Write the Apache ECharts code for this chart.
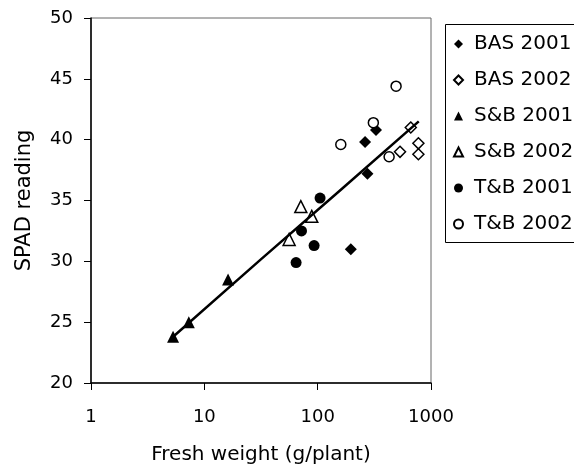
<!DOCTYPE html>
<html>
<head>
<meta charset="utf-8">
<script src="https://cdn.jsdelivr.net/npm/echarts@6/dist/echarts.min.js"></script>
<style>
html,body{margin:0;padding:0;background:#fff;}
#c{width:574px;height:473px;}
</style>
</head>
<body>
<div id="c"></div>
<script>
var seriesNames = ['BAS 2001', 'BAS 2002', 'S&B 2001', 'S&B 2002', 'T&B 2001', 'T&B 2002'];
var bas2001 = [[262, 39.8], [327, 40.8], [275, 37.2], [196, 31.0]];
var bas2002 = [[533, 39.0], [774, 39.7], [774, 38.8], [663, 41.0]];
var sb2001 = [[5.3, 23.8], [7.3, 25.0], [16.2, 28.5]];
var sb2002 = [[71, 34.5], [88.7, 33.7], [56, 31.8]];
var tb2001 = [[105, 35.2], [72, 32.5], [93, 31.3], [64.5, 29.9]];
var tb2002 = [[160, 39.6], [310, 41.4], [427, 38.6], [492, 44.4]];
var fitLine = [[5.3, 23.8], [31, 30.1], [163, 35.95], [780, 41.5]];
var yTicks = [20, 25, 30, 35, 40, 45, 50];
var xTicks = [1, 10, 100, 1000];

var FONT = 'DejaVu Sans';
var filled = {color: '#000', opacity: 1};
var open = {color: '#fff', borderColor: '#000', borderWidth: 1.5, opacity: 1};

function sc(name, data, symbol, size, style) {
  return {name: name, type: 'scatter', data: data, symbol: symbol, symbolSize: size,
    itemStyle: style, z: 3, emphasis: {disabled: true}};
}

var chart = echarts.init(document.getElementById('c'), null, {renderer: 'canvas'});
chart.setOption({
  animation: false,
  backgroundColor: '#fff',
  grid: {left: 91, right: 143, top: 18, bottom: 90, show: true, borderColor: '#666', borderWidth: 1},
  xAxis: {
    type: 'log', logBase: 10, min: xTicks[0], max: xTicks[xTicks.length - 1],
    name: 'Fresh weight (g/plant)', nameLocation: 'middle', nameGap: 62,
    nameTextStyle: {fontFamily: FONT, fontSize: 20, color: '#000'},
    axisLine: {show: true, lineStyle: {color: '#000', width: 1.5}},
    axisTick: {show: true, length: 7, lineStyle: {color: '#000'}},
    minorTick: {show: false},
    splitLine: {show: false},
    axisLabel: {fontFamily: FONT, fontSize: 18, color: '#000', margin: 25,
      formatter: function (v) { return String(Math.round(v)); }}
  },
  yAxis: {
    type: 'value', min: yTicks[0], max: yTicks[yTicks.length - 1], interval: 5,
    name: 'SPAD reading', nameLocation: 'middle', nameGap: 56,
    nameTextStyle: {fontFamily: FONT, fontSize: 21, color: '#000'},
    axisLine: {show: true, lineStyle: {color: '#000', width: 1.5}},
    axisTick: {show: true, length: 7, lineStyle: {color: '#000'}},
    splitLine: {show: false},
    axisLabel: {fontFamily: FONT, fontSize: 18, color: '#000', margin: 18}
  },
  legend: {
    orient: 'vertical', left: 443, top: 22,
    data: seriesNames,
    itemWidth: 9, itemHeight: 9, itemGap: 16,
    padding: [12, 10, 12, 10],
    borderWidth: 0,
    textStyle: {fontFamily: FONT, fontSize: 20, color: '#000', padding: [0, 0, 0, 6]}
  },
  graphic: [{
    type: 'rect', left: 443, top: 22, z: 0,
    shape: {width: 200, height: 218},
    style: {fill: 'none', stroke: '#000', lineWidth: 1}
  }],
  series: [
    sc(seriesNames[0], bas2001, 'diamond', 12, filled),
    sc(seriesNames[1], bas2002, 'diamond', 11, open),
    sc(seriesNames[2], sb2001, 'triangle', 12, filled),
    sc(seriesNames[3], sb2002, 'triangle', 12, open),
    sc(seriesNames[4], tb2001, 'circle', 11, filled),
    sc(seriesNames[5], tb2002, 'circle', 10, open),
    {name: 'fit', type: 'line', data: fitLine, symbol: 'none', z: 4,
      lineStyle: {color: '#000', width: 2.5}, emphasis: {disabled: true}}
  ]
});
</script>
</body>
</html>
